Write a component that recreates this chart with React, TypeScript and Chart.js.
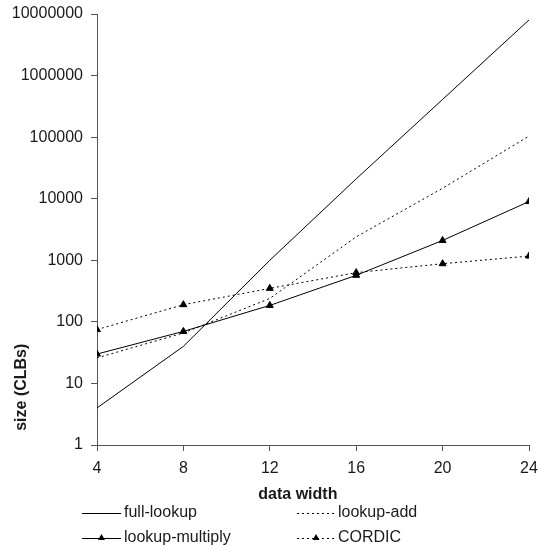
import { useEffect, useRef } from 'react';
import { Chart, registerables } from 'chart.js';

Chart.register(...registerables);

const dataWidths = [4, 8, 12, 16, 20, 24];
const fullLookup = [4, 40, 1000, 21000, 410000, 8000000];
const lookupAdd = [26, 66, 240, 2400, 14800, 104000];
const lookupMultiply = [30, 70, 185, 570, 2100, 9000];
const cordic = [75, 190, 350, 630, 880, 1170];
const yTickValues = [1, 10, 100, 1000, 10000, 100000, 1000000, 10000000];
const xTitle = 'data width';
const yTitle = 'size (CLBs)';

const FONT = '"Liberation Sans", Arial, sans-serif';
const TEXT = '#1a1a1a';
const AXIS = '#555555';

type S = { label: string; data: number[]; dash: number[]; marker: boolean };

const series: S[] = [
  { label: 'full-lookup', data: fullLookup, dash: [], marker: false },
  { label: 'lookup-add', data: lookupAdd, dash: [2, 3], marker: false },
  { label: 'lookup-multiply', data: lookupMultiply, dash: [], marker: true },
  { label: 'CORDIC', data: cordic, dash: [2, 3], marker: true },
];

const decorPlugin = {
  id: 'decor',
  afterDraw(chart: any) {
    const ctx: CanvasRenderingContext2D = chart.ctx;
    const area = chart.chartArea;
    ctx.save();
    ctx.fillStyle = TEXT;
    ctx.font = `bold 16px ${FONT}`;
    ctx.textAlign = 'center';
    ctx.textBaseline = 'middle';
    ctx.fillText(xTitle, area.left + (area.right - area.left) * 0.465, 495);
    ctx.save();
    ctx.translate(22, area.top + (area.bottom - area.top) * 0.866);
    ctx.rotate(-Math.PI / 2);
    ctx.fillText(yTitle, 0, 0);
    ctx.restore();

    const cols = [
      { x0: 82, x1: 121, tx: 124 },
      { x0: 297, x1: 335, tx: 338 },
    ];
    const rows = [513, 538];
    ctx.font = `16px ${FONT}`;
    ctx.textAlign = 'left';
    series.forEach((s, i) => {
      const c = cols[i % 2];
      const y = rows[Math.floor(i / 2)];
      ctx.strokeStyle = '#000';
      ctx.lineWidth = 1;
      ctx.setLineDash(s.dash);
      ctx.beginPath();
      ctx.moveTo(c.x0, y + 0.5);
      ctx.lineTo(c.x1, y + 0.5);
      ctx.stroke();
      ctx.setLineDash([]);
      if (s.marker) {
        const cx = (c.x0 + c.x1) / 2;
        const r = 4;
        ctx.fillStyle = '#000';
        ctx.beginPath();
        ctx.moveTo(cx, y - r);
        ctx.lineTo(cx + r * 0.866, y + r * 0.5);
        ctx.lineTo(cx - r * 0.866, y + r * 0.5);
        ctx.closePath();
        ctx.fill();
      }
      ctx.fillStyle = TEXT;
      ctx.fillText(s.label, c.tx, y);
    });
    ctx.restore();
  },
};

export default function App() {
  const ref = useRef<HTMLCanvasElement>(null);
  useEffect(() => {
    const chart = new Chart(ref.current!, {
      type: 'line',
      data: {
        datasets: series.map((s) => ({
          label: s.label,
          data: dataWidths.map((x, i) => ({ x, y: s.data[i] })),
          borderColor: '#000',
          borderWidth: 1,
          borderDash: s.dash,
          pointStyle: 'triangle',
          pointRadius: s.marker ? 4 : 0,
          pointBackgroundColor: '#000',
          pointBorderColor: '#000',
          pointBorderWidth: 1,
          tension: 0,
          fill: false,
        })),
      },
      options: {
        responsive: false,
        animation: false,
        layout: { padding: 0 },
        plugins: {
          legend: { display: false },
          tooltip: { enabled: false },
        },
        scales: {
          x: {
            type: 'linear',
            min: 4,
            max: 24,
            ticks: {
              stepSize: 4,
              color: TEXT,
              font: { family: FONT, size: 16 },
              padding: 8,
              maxRotation: 0,
            },
            grid: { drawOnChartArea: false, drawTicks: true, tickLength: 6, color: AXIS },
            border: { color: AXIS, width: 1 },
            afterFit: (s: any) => {
              s.height = 101;
              s.paddingRight = 9;
              s.paddingLeft = 0;
            },
          },
          y: {
            type: 'logarithmic',
            min: 1,
            max: 10000000,
            afterBuildTicks: (s: any) => {
              s.ticks = yTickValues.map((v) => ({ value: v }));
            },
            ticks: {
              color: TEXT,
              font: { family: FONT, size: 16 },
              padding: 8,
              callback: (v: any) => String(v),
            },
            grid: { drawOnChartArea: false, drawTicks: true, tickLength: 6, color: AXIS },
            border: { color: AXIS, width: 1 },
            afterFit: (s: any) => {
              s.width = 97;
              s.paddingTop = 14;
              s.paddingBottom = 0;
            },
          },
        },
      },
      plugins: [decorPlugin],
    });
    return () => chart.destroy();
  }, []);
  return (
    <div style={{ position: 'fixed', left: 0, top: 0, width: 538, height: 546, background: '#fff' }}>
      <canvas ref={ref} width={538} height={546} style={{ display: 'block' }} />
    </div>
  );
}
